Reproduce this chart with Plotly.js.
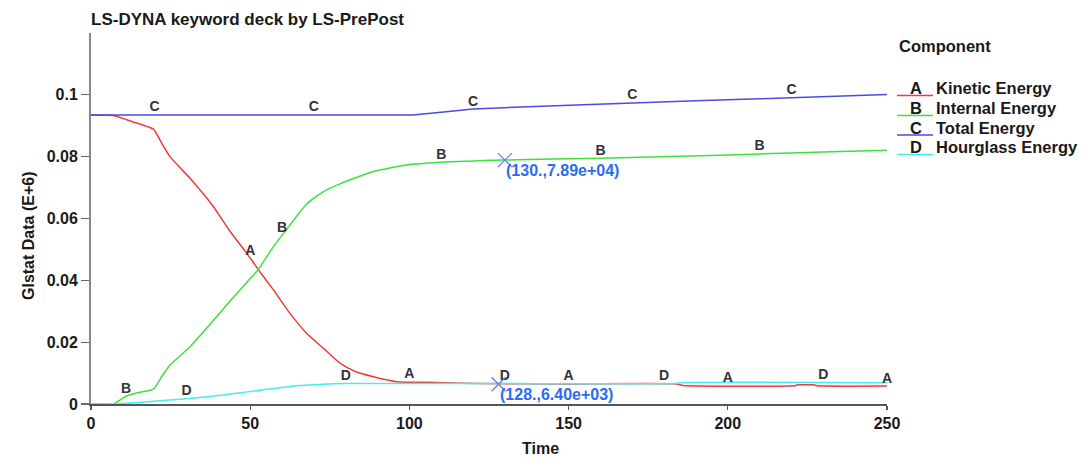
<!DOCTYPE html>
<html>
<head>
<meta charset="utf-8">
<script src="https://cdn.plot.ly/plotly-3.0.1.min.js"></script>
<style>html,body{margin:0;padding:0;background:#fff}#chart{width:1083px;height:459px}</style>
</head>
<body>
<div id="chart"></div>
<script>
// ---------------- DATA ----------------
const seriesLetters = ['A', 'B', 'C', 'D'];
const seriesNames = ['Kinetic Energy', 'Internal Energy', 'Total Energy', 'Hourglass Energy'];

const kineticT = [0, 7, 13, 19.6, 22.2, 24.8, 31.1, 38.4, 43.7, 48.9, 52.6, 57.3, 62.5, 67.7, 73, 78.2, 83, 88.7, 96, 106, 121, 150, 184, 186, 221, 222, 227, 228, 250];
const kineticV = [0.0935, 0.0933, 0.0913, 0.0889, 0.0844, 0.0800, 0.0730, 0.0639, 0.0558, 0.0488, 0.0434, 0.0369, 0.0293, 0.0229, 0.0180, 0.0132, 0.0105, 0.0088, 0.0072, 0.0070, 0.0066, 0.0065, 0.0065, 0.0060, 0.0059, 0.0062, 0.0062, 0.0059, 0.0058];

const internalT = [0, 7, 11, 15, 19.6, 22.2, 24.8, 31.1, 37.4, 43.7, 48.9, 52.6, 57.3, 62.5, 67.7, 73, 78.2, 88.7, 99, 110, 130, 160, 185, 210, 230, 250];
const internalV = [0, 0, 0.0025, 0.0037, 0.0048, 0.0088, 0.0126, 0.0185, 0.0258, 0.0333, 0.0393, 0.0436, 0.0509, 0.0579, 0.0647, 0.0687, 0.0712, 0.0752, 0.0773, 0.0782, 0.0789, 0.0795, 0.0801, 0.0809, 0.0815, 0.0821];

const totalT = [0, 101, 110, 120, 135, 153, 170, 190, 210, 230, 250];
const totalV = [0.0935, 0.0935, 0.0944, 0.0954, 0.0961, 0.0968, 0.0974, 0.0981, 0.0987, 0.0994, 0.1001];

const hourglassT = [0, 7, 15, 24.8, 31.1, 41.5, 49.9, 57.3, 64.6, 73, 80, 100, 130, 183, 185, 250];
const hourglassV = [0, 0, 0.0005, 0.0013, 0.0018, 0.0029, 0.0040, 0.0050, 0.0059, 0.0064, 0.0066, 0.0066, 0.0066, 0.0066, 0.0069, 0.0069];

// curve letter label times
const labelTimesA = [50, 100, 150, 200, 250];
const labelTimesB = [11, 60, 110, 160, 210];
const labelTimesC = [20, 70, 120, 170, 220];
const labelTimesD = [30, 80, 130, 180, 230];

// cursor readouts
const cursorT = [130, 128];
const cursorV = [0.0789, 0.0064];
const cursorText = ['(130.,7.89e+04)', '(128.,6.40e+03)'];

// axis ticks
const xTickVals = [0, 50, 100, 150, 200, 250];
const yTickVals = [0, 0.02, 0.04, 0.06, 0.08, 0.1];
const yTickText = ['0', '0.02', '0.04', '0.06', '0.08', '0.1'];

// ---------------- STYLE ----------------
const colors = ['#f03a3a', '#3ee03e', '#4b4be6', '#40eeee'];
const smooth = [0.5, 0.5, 0, 0.5];
const FONT = 'Liberation Sans, Arial, sans-serif';
const TXT = '#1a1a1a';
const W = 1083, H = 459;
const M = {l: 91, r: 196, t: 33, b: 55};
const PW = W - M.l - M.r, PH = H - M.t - M.b;
const px = x => (x - M.l) / PW;
const py = y => (H - M.b - y) / PH;

function interp(ts, vs, t) {
  for (let i = 1; i < ts.length; i++) {
    if (t <= ts[i]) {
      const f = (t - ts[i - 1]) / (ts[i] - ts[i - 1]);
      return vs[i - 1] + f * (vs[i] - vs[i - 1]);
    }
  }
  return vs[vs.length - 1];
}

const seriesT = [kineticT, internalT, totalT, hourglassT];
const seriesV = [kineticV, internalV, totalV, hourglassV];
const labelTimes = [labelTimesA, labelTimesB, labelTimesC, labelTimesD];

const traces = [];
for (let i = 0; i < 4; i++) {
  traces.push({
    x: seriesT[i], y: seriesV[i], type: 'scatter', mode: 'lines',
    line: {color: colors[i], width: 1.5, shape: smooth[i] ? 'spline' : 'linear', smoothing: smooth[i] || 1},
    name: seriesNames[i],
    showlegend: false, hoverinfo: 'skip', cliponaxis: false
  });
}
for (let i = 0; i < 4; i++) {
  traces.push({
    x: labelTimes[i], y: labelTimes[i].map(t => interp(seriesT[i], seriesV[i], t)),
    type: 'scatter', mode: 'text', text: labelTimes[i].map(() => seriesLetters[i]),
    textposition: 'top center',
    textfont: {family: FONT, size: 14, color: '#333', weight: 'bold'},
    showlegend: false, hoverinfo: 'skip', cliponaxis: false
  });
}
traces.push({
  x: cursorT, y: cursorV, type: 'scatter', mode: 'markers',
  marker: {symbol: 'x-thin-open', size: 14, line: {color: '#5b7cf0', width: 1.2}, color: '#5b7cf0'},
  showlegend: false, hoverinfo: 'skip', cliponaxis: false
});

const annotations = [];
cursorT.forEach((t, i) => {
  annotations.push({
    x: t, y: cursorV[i], xref: 'x', yref: 'y', text: cursorText[i], showarrow: false,
    xanchor: 'left', yanchor: 'middle', yshift: -10, xshift: -1,
    font: {family: FONT, size: 16, color: '#2b6cf2', weight: 'bold'}
  });
});
// axis titles
annotations.push({
  x: px(28), y: py(236), xref: 'paper', yref: 'paper', text: 'Glstat Data (E+6)', textangle: -90,
  showarrow: false, xanchor: 'center', yanchor: 'middle',
  font: {family: FONT, size: 16, color: TXT, weight: 'bold'}
});
annotations.push({
  x: px(540), y: py(448), xref: 'paper', yref: 'paper', text: 'Time',
  showarrow: false, xanchor: 'center', yanchor: 'middle',
  font: {family: FONT, size: 16, color: TXT, weight: 'bold'}
});
// legend
annotations.push({
  x: px(897), y: py(46), xref: 'paper', yref: 'paper', text: 'Component',
  showarrow: false, xanchor: 'left', yanchor: 'middle',
  font: {family: FONT, size: 16.5, color: TXT, weight: 'bold'}
});
const shapes = [];
const rowY = [88, 108, 127.5, 147];
for (let i = 0; i < 4; i++) {
  annotations.push({
    x: px(916), y: py(rowY[i]), xref: 'paper', yref: 'paper', text: seriesLetters[i],
    showarrow: false, xanchor: 'center', yanchor: 'middle',
    font: {family: FONT, size: 16.5, color: TXT, weight: 'bold'}
  });
  annotations.push({
    x: px(934), y: py(rowY[i]), xref: 'paper', yref: 'paper', text: seriesNames[i],
    showarrow: false, xanchor: 'left', yanchor: 'middle',
    font: {family: FONT, size: 16.5, color: TXT, weight: 'bold'}
  });
  shapes.push({
    type: 'line', xref: 'paper', yref: 'paper',
    x0: px(897), x1: px(933), y0: py(rowY[i] + 7.5), y1: py(rowY[i] + 7.5),
    line: {color: colors[i], width: 1.5}
  });
}

const tickFont = {family: FONT, size: 16, color: TXT, weight: 'bold'};
const layout = {
  width: W, height: H,
  margin: M,
  paper_bgcolor: '#fff', plot_bgcolor: '#fff',
  showlegend: false,
  title: {
    text: 'LS-DYNA keyword deck by LS-PrePost',
    font: {family: FONT, size: 17, color: TXT, weight: 'bold'},
    xref: 'paper', x: 0, xanchor: 'left',
    yref: 'container', y: 1 - 19 / H, yanchor: 'middle'
  },
  xaxis: {
    range: [0, 250], tickvals: xTickVals, ticks: 'outside', ticklen: 4, tickwidth: 1.2,
    tickcolor: '#555', showline: true, linecolor: '#555', linewidth: 1.5,
    showgrid: false, zeroline: false, tickfont: tickFont, fixedrange: true
  },
  xaxis2: {
    range: [0, 250], overlaying: 'x', anchor: 'y', side: 'bottom', dtick: 25, tick0: 0,
    ticks: 'inside', ticklen: 8, tickwidth: 1.2, tickcolor: '#555',
    showticklabels: false, showline: false, showgrid: false, zeroline: false
  },
  xaxis3: {
    range: [0, 250], overlaying: 'x', anchor: 'y', side: 'top', dtick: 50, tick0: 0,
    ticks: 'inside', ticklen: 6, tickwidth: 1.2, tickcolor: '#666',
    showticklabels: false, showline: true, linecolor: '#777', linewidth: 1.5,
    showgrid: false, zeroline: false
  },
  yaxis: {
    range: [0, 0.12], tickvals: yTickVals, ticktext: yTickText, ticks: 'outside', ticklen: 8, tickwidth: 1.2,
    tickcolor: '#666', showline: true, linecolor: '#888', linewidth: 2,
    showgrid: false, zeroline: false, tickfont: tickFont, fixedrange: true
  },
  yaxis2: {
    range: [0, 0.12], overlaying: 'y', anchor: 'x', side: 'left', dtick: 0.01, tick0: 0,
    ticks: 'inside', ticklen: 7, tickwidth: 1.2, tickcolor: '#666',
    showticklabels: false, showline: false, showgrid: false, zeroline: false
  },
  yaxis3: {
    range: [0, 0.12], overlaying: 'y', anchor: 'x', side: 'right', dtick: 0.02, tick0: 0,
    ticks: 'inside', ticklen: 5, tickwidth: 1.2, tickcolor: '#444',
    showticklabels: false, showline: true, linecolor: '#444', linewidth: 1.2,
    showgrid: false, zeroline: false
  },
  annotations: annotations,
  shapes: shapes
};

Plotly.newPlot('chart', traces, layout, {displayModeBar: false, staticPlot: true});
</script>
</body>
</html>
